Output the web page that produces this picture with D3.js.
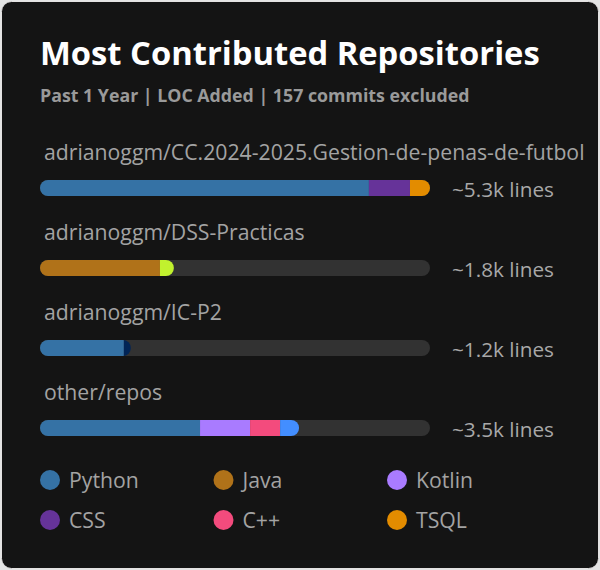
<!DOCTYPE html>
<html><head><meta charset="utf-8">
<script src="https://cdn.jsdelivr.net/npm/d3@7"></script>
<style>
html,body{margin:0;padding:0;background:#e4e4e4;}
svg{display:block;}
</style></head>
<body>
<svg id="chart" width="600" height="570"></svg>
<script>
const titleText = "Most Contributed Repositories";
const subtitleText = "Past 1 Year | LOC Added | 157 commits excluded";
const repoNames = [
  "adrianoggm/CC.2024-2025.Gestion-de-penas-de-futbol",
  "adrianoggm/DSS-Practicas",
  "adrianoggm/IC-P2",
  "other/repos"
];
const repoLangs = [
  ["Python", "CSS", "TSQL"],
  ["Java", "Batchfile"],
  ["Python", "PowerShell"],
  ["Python", "Kotlin", "C++", "Objective-C"]
];
const repoLoc = [
  [4470, 558, 272],
  [1630, 190],
  [1140, 95],
  [2175, 680, 408, 258]
];
const legendLangs = ["Python", "Java", "Kotlin", "CSS", "C++", "TSQL"];
const langColors = {
  "Python": "#3572A5", "CSS": "#663399", "TSQL": "#e38c00", "Java": "#b07219",
  "Batchfile": "#C1F12E", "PowerShell": "#012456", "Kotlin": "#A97BFF",
  "C++": "#f34b7d", "Objective-C": "#438eff"
};

const FONT = "'Segoe UI', 'Open Sans', 'Noto Sans', sans-serif";
const svg = d3.select("#chart");

svg.append("rect").attr("x", 1.5).attr("y", 1.5).attr("width", 597).attr("height", 567)
  .attr("rx", 10).attr("fill", "#141414").attr("stroke", "#e4e2e2");

function fitText(sel, target, base) {
  const w = sel.node().getComputedTextLength();
  sel.attr("font-size", base * target / w);
  return base * target / w;
}

const t = svg.append("text").attr("x", 40).attr("y", 65).attr("fill", "#ffffff")
  .attr("font-family", FONT).attr("font-weight", 700).attr("font-size", 32).text(titleText);
fitText(t, 500, 32);
const st = svg.append("text").attr("x", 40).attr("y", 102).attr("fill", "#9a9a9a")
  .attr("font-family", FONT).attr("font-weight", 700).attr("font-size", 18).text(subtitleText);
fitText(st, 430, 18);

const totals = repoLoc.map(a => d3.sum(a));
const x = d3.scaleLinear().domain([0, d3.max(totals)]).range([40, 430]);
const y = d3.scalePoint().domain(repoNames).range([188, 428]);
const barH = 16;

// measure sizes from the first row
const probe = svg.append("text").attr("font-family", FONT).attr("font-size", 20).text(repoNames[0]);
const labSize = fitText(probe, 541, 20);
probe.attr("font-size", 20).text("~" + (totals[0] / 1000).toFixed(1) + "k lines");
const valSize = fitText(probe, 102, 20);
probe.remove();

const defs = svg.append("defs");
repoNames.forEach((name, i) => {
  const cy = y(name);
  svg.append("text").attr("x", 44).attr("y", cy - 28).attr("fill", "#a3a3a3")
    .attr("font-family", FONT).attr("font-size", labSize).text(name);
  svg.append("rect").attr("x", x(0)).attr("y", cy - barH / 2).attr("width", x.range()[1] - x(0))
    .attr("height", barH).attr("rx", barH / 2).attr("fill", "#323232");
  defs.append("clipPath").attr("id", "clip" + i).append("rect")
    .attr("x", x(0)).attr("y", cy - barH / 2).attr("width", x(totals[i]) - x(0))
    .attr("height", barH).attr("rx", barH / 2);
  let acc = 0;
  const segs = repoLoc[i].map((v, j) => { const s = { lang: repoLangs[i][j], x0: acc, x1: acc + v }; acc += v; return s; });
  svg.append("g").attr("clip-path", `url(#clip${i})`).selectAll("rect").data(segs).join("rect")
    .attr("x", d => x(d.x0)).attr("width", d => x(d.x1) - x(d.x0))
    .attr("y", cy - barH / 2).attr("height", barH).attr("fill", d => langColors[d.lang]);
  svg.append("text").attr("x", 452).attr("y", cy + 9).attr("fill", "#a8a8a8")
    .attr("font-family", FONT).attr("font-size", valSize)
    .text("~" + (totals[i] / 1000).toFixed(1) + "k lines");
});

const legX = d3.scalePoint().domain([0, 1, 2]).range([50, 397]);
const legY = d3.scalePoint().domain([0, 1]).range([480, 520]);
const leg = svg.selectAll("g.leg").data(legendLangs).join("g").attr("class", "leg")
  .attr("transform", (d, i) => `translate(${legX(i % 3)},${legY(Math.floor(i / 3))})`);
leg.append("circle").attr("r", 10).attr("fill", d => langColors[d]);
leg.append("text").attr("x", 19).attr("y", 8).attr("fill", "#a3a3a3")
  .attr("font-family", FONT).attr("font-size", labSize).text(d => d);
</script>
</body></html>
